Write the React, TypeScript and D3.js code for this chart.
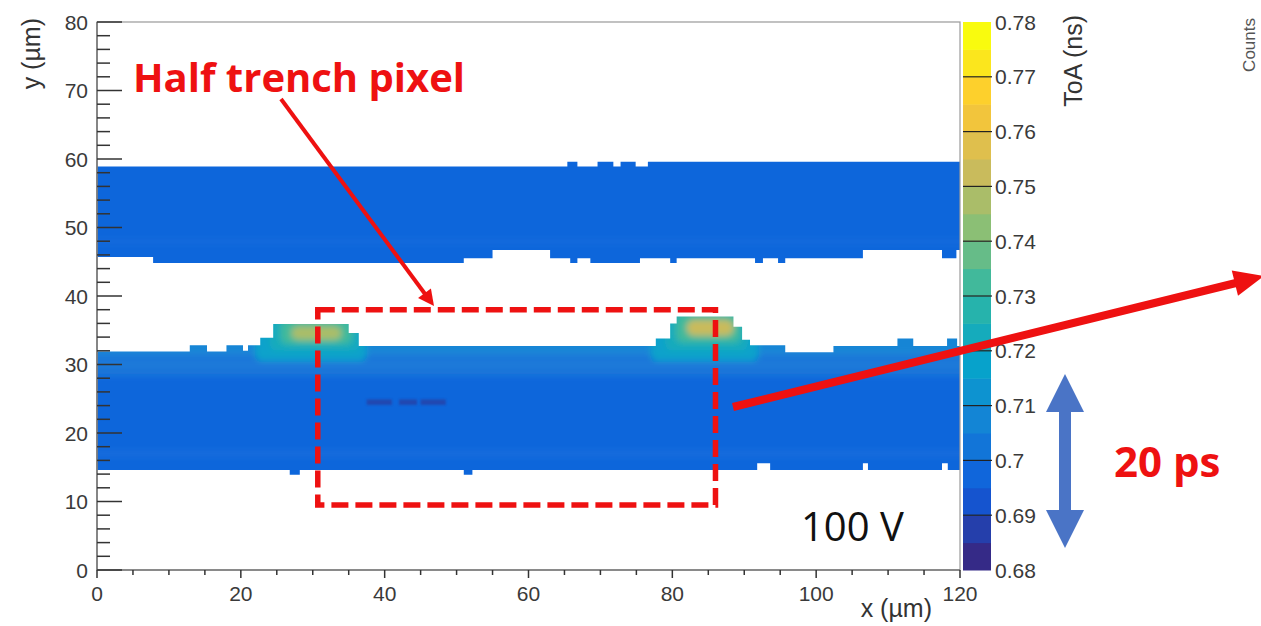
import React from "react";
import * as d3 from "d3";

const width = 1261;
const height = 626;

// axis ticks and labels
const xTicks = [0, 20, 40, 60, 80, 100, 120];
const yTicks = [0, 10, 20, 30, 40, 50, 60, 70, 80];
const zTicks = [0.68, 0.69, 0.7, 0.71, 0.72, 0.73, 0.74, 0.75, 0.76, 0.77, 0.78];
const zTickLabels = ["0.68", "0.69", "0.7", "0.71", "0.72", "0.73", "0.74", "0.75", "0.76", "0.77", "0.78"];

// band outlines: [x0, x1, y] in um
const upperTop = [
  [0, 65.4, 58.9], [65.4, 66.8, 59.6], [66.8, 69.6, 58.9], [69.6, 71.8, 59.6],
  [71.8, 72.8, 58.9], [72.8, 74.9, 59.6], [74.9, 76.6, 58.9], [76.6, 120, 59.6],
];
const upperBottom = [
  [0, 7.8, 45.7], [7.8, 51, 44.8], [51, 55, 45.5], [55, 63, 46.7], [63, 65.8, 45.5],
  [65.8, 66.8, 44.8], [66.8, 68.6, 45.5], [68.6, 75.5, 44.8], [75.5, 79.7, 45.5],
  [79.7, 80.6, 44.8], [80.6, 91.5, 45.5], [91.5, 92.6, 44.8], [92.6, 94.7, 45.5],
  [94.7, 95.7, 44.8], [95.7, 106.5, 45.5], [106.5, 117.5, 46.7], [117.5, 119.5, 45.5],
  [119.5, 120, 46.7],
];
const lowerTop = [
  [0, 12.9, 31.9], [12.9, 15.3, 32.8], [15.3, 18, 31.9], [18, 20.3, 32.8], [20.3, 21, 32.0],
  [21, 22.7, 32.8], [22.7, 24.5, 33.9], [24.5, 35, 35.9], [35, 36.4, 34.6], [36.4, 77.7, 32.7],
  [77.7, 79.7, 33.8], [79.7, 80.6, 36.0], [80.6, 88.5, 37.0], [88.5, 89.7, 35.5],
  [89.7, 90.8, 33.6], [90.8, 95.7, 32.8], [95.7, 102.4, 31.8], [102.4, 111.3, 32.7],
  [111.3, 113.5, 33.8], [113.5, 118.2, 32.7], [118.2, 119.6, 33.8], [119.6, 120, 32.7],
];
const lowerBottom = [
  [0, 26.8, 14.6], [26.8, 28.2, 13.9], [28.2, 51, 14.6], [51, 52.2, 13.9], [52.2, 91.8, 14.6],
  [91.8, 93.6, 15.6], [93.6, 106.5, 14.6], [106.5, 107.2, 15.6], [107.2, 117.5, 14.6],
  [117.5, 118.3, 15.6], [118.3, 120, 14.6],
];

// ToA (ns) by height: [y0, y1, toa]
const upperRows = [[40, 48, 0.697], [48, 64, 0.696]];
const lowerRows = [
  [8, 17, 0.697], [17, 27, 0.696], [27, 28.5, 0.699], [28.5, 30, 0.702],
  [30, 31.5, 0.705], [31.5, 40, 0.71],
];
// hot spots at the trench ends: [x0, x1, y0, y1, toa]
const bumpSpots = [
  [22, 37.5, 30.5, 38, 0.716], [24, 36.5, 32, 37, 0.724], [25.5, 35.5, 33, 36.5, 0.734],
  [27, 34, 33.6, 35.6, 0.746],
  [77, 92, 30.5, 39, 0.716], [79, 90.5, 32, 38, 0.724], [80.5, 89.5, 33.2, 37.4, 0.735],
  [82, 88.5, 34.2, 36.5, 0.752],
];
const darkSpots = [
  [37.5, 41, 24.1, 24.9, 0.681], [42, 44.5, 24.1, 24.9, 0.681], [45, 48.5, 24.1, 24.9, 0.684],
];

// ROOT kBird palette
const birdStops = [0, 0.125, 0.25, 0.375, 0.5, 0.625, 0.75, 0.875, 1];
const birdColors = ["#352a87", "#0f5cdd", "#1481d6", "#06a4ca", "#2eb7a4", "#87bf77", "#d1bb59", "#fec832", "#f9fb0e"];
const nLevels = 20;

const xScale = d3.scaleLinear().domain([0, 120]).range([97, 960]);
const yScale = d3.scaleLinear().domain([0, 80]).range([570, 22]);
const zScale = d3.scaleLinear().domain([0.68, 0.78]).range([570, 22]);
const bird = d3.scaleLinear<string>().domain(birdStops).range(birdColors).interpolate(d3.interpolateRgb);

function levelOf(v: number) {
  return Math.max(0, Math.min(nLevels - 1, Math.floor(((v - 0.68) / 0.1) * nLevels)));
}
function toaColor(v: number) {
  return bird(levelOf(v) / (nLevels - 1));
}

// one closed outline from the top and bottom step edges
function bandPath(top: number[][], bottom: number[][]) {
  const pts: [number, number][] = [];
  top.forEach((s) => {
    pts.push([xScale(s[0]), yScale(s[2])]);
    pts.push([xScale(s[1]), yScale(s[2])]);
  });
  [...bottom].reverse().forEach((s) => {
    pts.push([xScale(s[1]), yScale(s[2])]);
    pts.push([xScale(s[0]), yScale(s[2])]);
  });
  return d3.line()(pts) + "Z";
}

function arrowHead(x1: number, y1: number, x2: number, y2: number, len: number, half: number) {
  const a = Math.atan2(y2 - y1, x2 - x1);
  const bx = x2 - len * Math.cos(a);
  const by = y2 - len * Math.sin(a);
  const px = -Math.sin(a) * half;
  const py = Math.cos(a) * half;
  return `${x2},${y2} ${bx + px},${by + py} ${bx - px},${by - py}`;
}

const axisFont = "'Liberation Sans', Arial, sans-serif";
const noteFont = "'Open Sans', 'Noto Sans', sans-serif";
const red = "#ee1111";

export default function App() {
  const rows = [...upperRows, ...lowerRows];
  const xMinor = d3.range(0, 121, 5);
  const yMinor = d3.range(0, 81, 2);
  const levels = d3.range(nLevels);
  const [x0, x1] = xScale.range();
  const [y0, y1] = yScale.range();

  return (
    <svg width={width} height={height} style={{ position: "absolute", left: 0, top: 0, background: "#fff" }}>
      <defs>
        <clipPath id="bands">
          <path d={bandPath(upperTop, upperBottom)} />
          <path d={bandPath(lowerTop, lowerBottom)} />
        </clipPath>
        <filter id="soft" filterUnits="userSpaceOnUse" x="0" y="0" width={width} height={height}>
          <feGaussianBlur stdDeviation="3" />
        </filter>
        <filter id="softer" filterUnits="userSpaceOnUse" x="0" y="0" width={width} height={height}>
          <feGaussianBlur stdDeviation="1.2" />
        </filter>
      </defs>

      {/* ToA map */}
      <g clipPath="url(#bands)">
        <g filter="url(#soft)">
          {rows.map((r, i) => (
            <rect key={i} x={x0 - 10} y={yScale(r[1])} width={x1 - x0 + 20} height={yScale(r[0]) - yScale(r[1])} fill={toaColor(r[2])} />
          ))}
          {bumpSpots.map((s, i) => (
            <rect key={i} x={xScale(s[0])} y={yScale(s[3])} width={xScale(s[1]) - xScale(s[0])} height={yScale(s[2]) - yScale(s[3])} rx={7} fill={toaColor(s[4])} />
          ))}
        </g>
        <g filter="url(#softer)" opacity={0.5}>
          {darkSpots.map((s, i) => (
            <rect key={i} x={xScale(s[0])} y={yScale(s[3])} width={xScale(s[1]) - xScale(s[0])} height={yScale(s[2]) - yScale(s[3])} fill={toaColor(s[4])} />
          ))}
        </g>
      </g>

      {/* frame and axes */}
      <rect x={x0} y={y1} width={x1 - x0} height={y0 - y1} fill="none" stroke="#999" strokeWidth={1.2} />
      <line x1={x0} x2={x0} y1={y1} y2={y0} stroke="#777" strokeWidth={1.6} />
      <line x1={x0} x2={x1} y1={y0} y2={y0} stroke="#777" strokeWidth={1.6} />
      {yMinor.map((v) => (
        <line key={v} x1={x0} x2={x0 + (v % 10 === 0 ? 25 : 13)} y1={yScale(v)} y2={yScale(v)} stroke="#333" strokeWidth={1.5} />
      ))}
      {xMinor.map((v) => (
        <line key={v} x1={xScale(v)} x2={xScale(v)} y1={y0} y2={y0 + (v % 20 === 0 ? 8 : 5)} stroke="#333" strokeWidth={1.5} />
      ))}
      {yTicks.map((v) => (
        <text key={v} x={88} y={yScale(v)} dy="0.36em" textAnchor="end" fontFamily={axisFont} fontSize={21} fill="#3a3a3a">
          {v}
        </text>
      ))}
      {xTicks.map((v) => (
        <text key={v} x={xScale(v)} y={601} textAnchor="middle" fontFamily={axisFont} fontSize={21} fill="#3a3a3a">
          {v}
        </text>
      ))}
      <text transform="translate(40,18) rotate(-90)" textAnchor="end" fontFamily={axisFont} fontSize={25} fill="#333">
        y (µm)
      </text>
      <text x={932} y={617} textAnchor="end" fontFamily={axisFont} fontSize={25} fill="#333">
        x (µm)
      </text>

      {/* colour bar */}
      {levels.map((i) => (
        <rect key={i} x={963} y={zScale(0.68 + ((i + 1) * 0.1) / nLevels)} width={28} height={zScale(0.68) - zScale(0.68 + 0.1 / nLevels) + 0.5} fill={bird(i / (nLevels - 1))} />
      ))}
      {zTicks.slice(1, -1).map((v) => (
        <line key={v} x1={963} x2={992} y1={zScale(v)} y2={zScale(v)} stroke="#222" strokeWidth={1.2} />
      ))}
      {zTicks.map((v, i) => (
        <text key={v} x={995} y={zScale(v)} dy="0.36em" fontFamily={axisFont} fontSize={21} fill="#3a3a3a">
          {zTickLabels[i]}
        </text>
      ))}
      <text transform="translate(1082,15) rotate(-90)" textAnchor="end" fontFamily={axisFont} fontSize={25} fill="#333">
        ToA (ns)
      </text>
      <text transform="translate(1255,18) rotate(-90)" textAnchor="end" fontFamily={axisFont} fontSize={17} fill="#555">
        Counts
      </text>

      {/* annotations */}
      <text x={133} y={92} fontFamily={noteFont} fontWeight="bold" fontSize={40} fill={red}>
        Half trench pixel
      </text>
      <line x1={281} y1={99} x2={428} y2={298} stroke={red} strokeWidth={4} />
      <polygon points={arrowHead(281, 99, 434, 306, 16, 8)} fill={red} />
      <rect x={xScale(30.7)} y={yScale(38)} width={xScale(86) - xScale(30.7)} height={yScale(9.5) - yScale(38)} fill="none" stroke={red} strokeWidth={5.5} strokeDasharray="17 7" />
      <line x1={733} y1={407} x2={1240} y2={282} stroke={red} strokeWidth={8} />
      <polygon points={arrowHead(733, 407, 1264, 276, 30, 13)} fill={red} />
      <line x1={1065} x2={1065} y1={405} y2={518} stroke="#4a74c6" strokeWidth={12} />
      <polygon points={arrowHead(1065, 460, 1065, 374, 38, 19)} fill="#4a74c6" />
      <polygon points={arrowHead(1065, 460, 1065, 548, 38, 19)} fill="#4a74c6" />
      <text x={1114} y={477} fontFamily={noteFont} fontWeight="bold" fontSize={42} fill={red}>
        20 ps
      </text>
      <text x={801} y={541} fontFamily={noteFont} fontSize={40} fill="#111">
        100 V
      </text>
    </svg>
  );
}
